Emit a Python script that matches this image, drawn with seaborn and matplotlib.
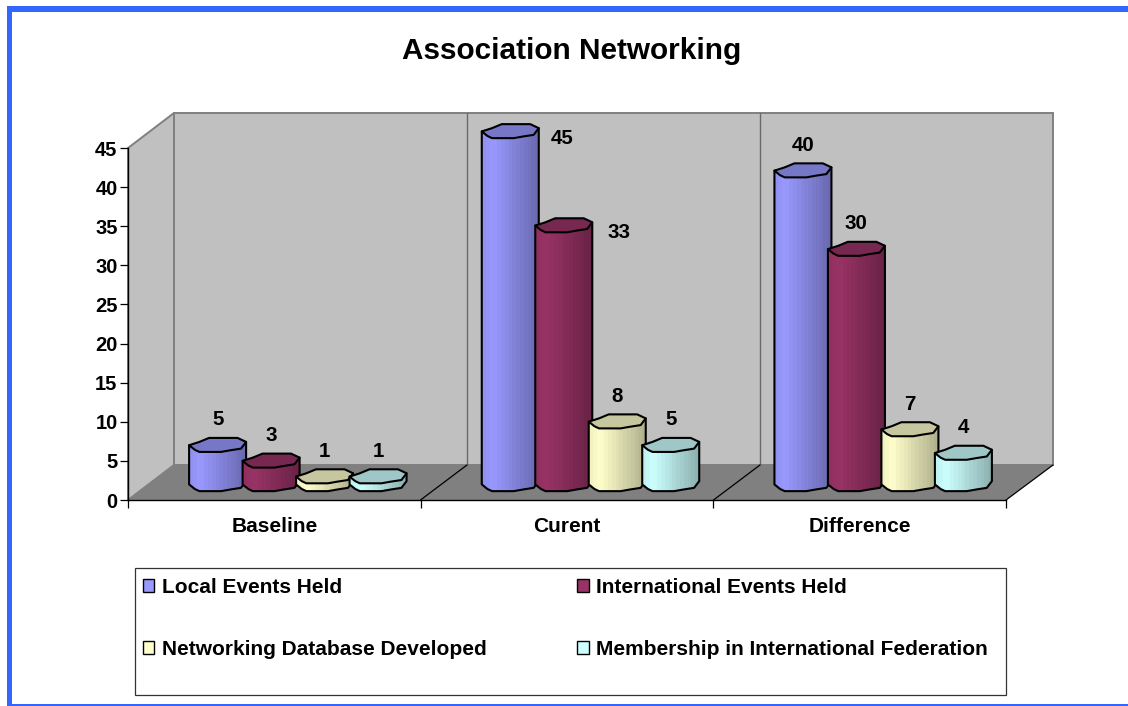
import numpy as np
import pandas as pd
import seaborn as sns
import matplotlib
matplotlib.use("Agg")
import matplotlib.pyplot as plt
from matplotlib.patches import Polygon, Rectangle, Patch

categories = ["Baseline", "Curent", "Difference"]
series_names = ["Local Events Held", "International Events Held",
                "Networking Database Developed", "Membership in International Federation"]
local_events = [5, 45, 40]
international_events = [3, 33, 30]
networking_db = [1, 8, 7]
membership = [1, 5, 4]
colors = ["#9999FF", "#993366", "#FFFFCC", "#CCFFFF"]
y_ticks = list(range(0, 50, 5))
title = "Association Networking"

W, H = 1128, 706
sns.set_theme(style="white")
plt.rcParams["font.family"] = ["Liberation Sans", "DejaVu Sans"]
plt.rcParams["font.weight"] = "bold"
fig = plt.figure(figsize=(W / 100, H / 100), dpi=100, facecolor="white")


def px_axes(x0, y0, x1, y1, **kw):
    return fig.add_axes([x0 / W, 1 - y1 / H, (x1 - x0) / W, (y1 - y0) / H], **kw)


# ---- scene: frame, walls, floor (pixel coordinates)
scene = px_axes(0, 0, W, H, zorder=0)
scene.set_xlim(0, W)
scene.set_ylim(H, 0)
scene.axis("off")
blue = "#3366FF"
for r in [(7, 6, W - 7, 6), (7, 6, 5, H - 6), (7, 704, W - 7, 3)]:
    scene.add_patch(Rectangle(r[:2], r[2], r[3], fc=blue, ec="none"))
wall_e = "#808080"
scene.add_patch(Polygon([(128, 148), (174, 113), (174, 465), (128, 500)], fc="#C0C0C0", ec=wall_e, lw=1.4))
scene.add_patch(Polygon([(174, 113), (1053, 113), (1053, 465), (174, 465)], fc="#C0C0C0", ec=wall_e, lw=1.4))
scene.add_patch(Polygon([(128, 500), (174, 465), (1053, 465), (1006, 500)], fc="#808080", ec="none"))
for x in (467, 760):
    scene.plot([x, x], [113, 465], color="#6a6a6a", lw=1.0)
    scene.plot([x, x - 46.5], [465, 500], color="black", lw=0.9)
scene.plot([1053, 1006], [465, 500], color="black", lw=0.9)

# ---- front axes: ticks and tick labels
ax = px_axes(128, 148, 1006, 500, zorder=1)
ax.patch.set_alpha(0)
ax.set_xlim(0, 3)
ax.set_ylim(0, 45)
ax.set_yticks(y_ticks)
ax.set_xticks([0, 1, 2, 3])
ax.set_xticklabels([])
ax.set_xticks([0.5, 1.5, 2.5], minor=True)
ax.set_xticklabels(categories, minor=True, fontsize=15, fontweight="bold", color="black")
ax.tick_params(axis="x", which="minor", length=0, pad=12.3)
ax.tick_params(axis="x", which="major", length=5.5, width=0.9, color="black", bottom=True)
ax.tick_params(axis="y", length=5.5, width=0.9, color="black", left=True, pad=2,
               labelsize=14.5, labelcolor="black")
for t in ax.get_yticklabels():
    t.set_fontweight("bold")
for s in ("top", "right"):
    ax.spines[s].set_visible(False)
for s in ("left", "bottom"):
    ax.spines[s].set_color("black")
    ax.spines[s].set_linewidth(1.0)
ax.grid(False)

# ---- cylinders: seaborn bars on a shifted axes (depth offset of the 3-D look)
BX0, BX1, BY0, BY1 = 151.5, 1029.5, 131, 484
bx = px_axes(BX0, BY0, BX1, BY1, zorder=2)
bx.patch.set_alpha(0)
df = pd.DataFrame({
    "category": categories * 4,
    "series": np.repeat(series_names, 3),
    "value": local_events + international_events + networking_db + membership,
})
sns.barplot(data=df, x="category", y="value", hue="series", hue_order=series_names,
            palette=dict(zip(series_names, colors)), saturation=1, width=0.731,
            dodge=True, legend=False, ax=bx, errorbar=None)
bx.set_xlim(-0.5, 2.5)
bx.set_ylim(0, 45)
bx.axis("off")

ux = 3 / (BX1 - BX0)
uy = 45 / (BY1 - BY0)
CYL_W = 57 * ux
CYL_H = 14.3 * uy
# normalised lid outline (u across, v downwards), front part then back part
front = [(0, .53), (.1, .85), (.18, 1), (.56, 1), (.73, .88), (.91, .77), (1, .3)]
back = [(.85, .02), (.35, .02), (.18, .3)]


def pt(u, v, xc, yc):
    return (xc + (u - .5) * CYL_W, yc + (.5 - v) * CYL_H)


bars = sorted(bx.patches, key=lambda p: p.get_x())
offsets = {45: (52, -8), 33: (55, -7)}
for i, b in enumerate(bars):
    xc = b.get_x() + b.get_width() / 2
    val = b.get_height()
    rgb = np.array(matplotlib.colors.to_rgb(b.get_facecolor()))
    body = [pt(*front[0], xc, val)] + [pt(u, v, xc, 0) for u, v in front] + [pt(*front[-1], xc, val)]
    z = 3 + i * 3
    poly = Polygon(body, closed=True, fc="none", ec="black", lw=1.5, joinstyle="round",
                   transform=bx.transData, zorder=z + 1, clip_on=False)
    bx.add_patch(poly)
    b.set_clip_path(poly)
    # stepped shading across the cylinder
    u = np.linspace(0, 1, 15)
    shade = np.interp(u, [0, .18, .55, 1], [.95, 1, .86, .7])
    grad = (rgb[None, None, :] * shade[None, :, None]).clip(0, 1)
    im = bx.imshow(grad, extent=(xc - CYL_W / 2, xc + CYL_W / 2, -CYL_H, val + CYL_H),
                   aspect="auto", interpolation="nearest", zorder=z)
    im.set_clip_path(poly)
    im.set_clip_box(fig.bbox)
    lid = [pt(u_, v_, xc, val) for u_, v_ in front + back]
    bx.add_patch(Polygon(lid, closed=True, fc=rgb * .78, ec="black", lw=1.5, joinstyle="round",
                         transform=bx.transData, zorder=z + 2, clip_on=False))
    off = offsets.get(int(val), (0, 25))
    bx.annotate(f"{int(val)}", (xc, val), xytext=(off[0] * .72, off[1] * .72),
                textcoords="offset points", ha="center", va="center",
                fontsize=14.8, fontweight="bold", color="black", zorder=100)
bx.set_xlim(-0.5, 2.5)
bx.set_ylim(0, 45)

# ---- title
fig.text(572 / W, 1 - 51 / H, title, ha="center", va="center", fontsize=21.4,
         fontweight="bold", color="black")

# ---- legend (columns fill first, so the row order is set here)
scene.add_patch(Rectangle((135, 568), 871, 127, fc="white", ec="#333333", lw=0.9))
order = [0, 2, 1, 3]
handles = [Patch(fc=colors[i], ec="black", lw=1.0) for i in order]
fig.legend(handles=handles, labels=[series_names[i] for i in order], ncols=2, frameon=False,
           loc="upper left", bbox_to_anchor=(143 / W, 1 - 578 / H), borderpad=0, borderaxespad=0,
           prop={"family": "Liberation Sans", "weight": "bold", "size": 15},
           labelcolor="black", handlelength=0.55, handleheight=0.55, handletextpad=0.35,
           labelspacing=2.07, columnspacing=4.35)

fig.savefig("out.png", dpi=100)
